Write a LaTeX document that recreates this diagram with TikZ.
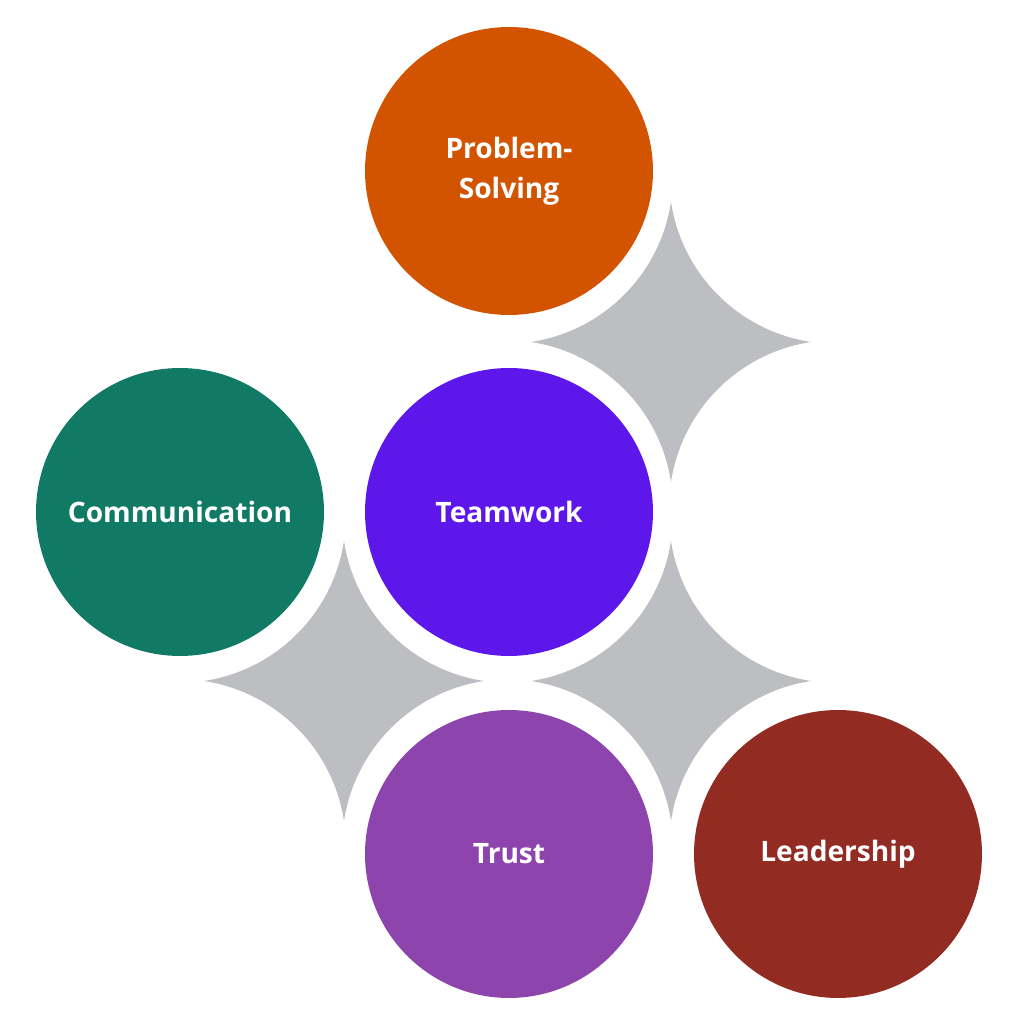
\documentclass[tikz,border=0pt]{standalone}
\usepackage{fontspec}
\setmainfont{Open Sans}
\definecolor{cPS}{HTML}{D35400}
\definecolor{cCom}{HTML}{117A65}
\definecolor{cTeam}{HTML}{5E17EB}
\definecolor{cTrust}{HTML}{8E44AD}
\definecolor{cLead}{HTML}{922B22}
\definecolor{cStar}{HTML}{BDBEC1}
\tikzset{
  bubble/.style={circle, minimum size=5.76cm, inner sep=0pt, text=white,
    font=\fontsize{16pt}{23pt}\selectfont\bfseries, align=center},
  sparkle/.pic={
    \fill[cStar] (-140,0)
      arc[start angle=-81.384, end angle=-8.616, radius=166.88]
      arc[start angle=188.616, end angle=261.384, radius=166.88]
      arc[start angle=98.616, end angle=171.384, radius=166.88]
      arc[start angle=8.616, end angle=81.384, radius=166.88] -- cycle;
  }
}
\begin{document}
\begin{tikzpicture}[x=0.02cm, y=0.02cm]
\useasboundingbox[fill=white] (0,0) rectangle (1024,1024);
\pic (s1) at (671,682) {sparkle};
\pic (s2) at (344,343) {sparkle};
\pic (s3) at (671,343) {sparkle};
\node[bubble, fill=cPS] (ps) at (509,853) {Problem-\\Solving};
\node[bubble, fill=cCom] (com) at (180,512) {Communication};
\node[bubble, fill=cTeam] (team) at (509,512) {Teamwork};
\node[bubble, fill=cTrust] (trust) at (509,170) {Trust};
\node[bubble, fill=cLead] (lead) at (838,170) {Leadership};
\end{tikzpicture}
\end{document}
